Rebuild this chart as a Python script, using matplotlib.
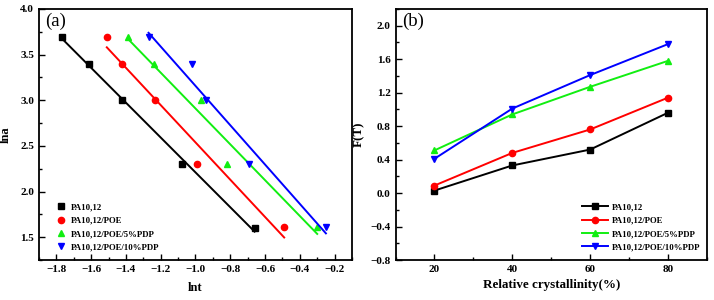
import numpy as np
import matplotlib
matplotlib.use('Agg')
import matplotlib.pyplot as plt
from matplotlib.ticker import MultipleLocator

plt.rcParams['font.family'] = ['Liberation Serif', 'DejaVu Serif']
plt.rcParams['font.weight'] = 'bold'

labels = ['PA10,12', 'PA10,12/POE', 'PA10,12/POE/5%PDP', 'PA10,12/POE/10%PDP']
colors = ['black', 'red', '#11ee11', 'blue']
markers = ['s', 'o', '^', 'v']

# panel (a): ln t vs ln a
lnt_pa = [-1.77, -1.61, -1.42, -1.08, -0.66]
lnt_poe = [-1.51, -1.42, -1.23, -0.99, -0.49]
lnt_5pdp = [-1.39, -1.24, -0.97, -0.82, -0.30]
lnt_10pdp = [-1.27, -1.02, -0.94, -0.69, -0.25]
lna_pa = [3.69, 3.40, 3.00, 2.30, 1.60]
lna_poe = [3.69, 3.40, 3.00, 2.30, 1.61]
lna_5pdp = [3.69, 3.40, 3.00, 2.30, 1.61]
lna_10pdp = [3.69, 3.40, 3.00, 2.30, 1.61]

# panel (b): F(T) vs relative crystallinity
xt = [20, 40, 60, 80]
ft_pa = [0.03, 0.33, 0.52, 0.96]
ft_poe = [0.09, 0.48, 0.76, 1.14]
ft_5pdp = [0.51, 0.94, 1.27, 1.58]
ft_10pdp = [0.41, 1.01, 1.41, 1.78]

fig = plt.figure(figsize=(7.14, 3.0), dpi=100)
axa = fig.add_axes([0.0546, 0.1333, 0.4384, 0.8367])
axb = fig.add_axes([0.554, 0.1333, 0.436, 0.8367])


def style(ax):
    for s in ax.spines.values():
        s.set_linewidth(1.3)
    ax.tick_params(which='both', direction='in', top=False, right=False,
                   labelsize=8, width=1)
    ax.tick_params(which='major', length=4)
    ax.tick_params(which='minor', length=2.5)
    for t in ax.get_xticklabels() + ax.get_yticklabels():
        t.set_fontweight('bold')


lnts = [lnt_pa, lnt_poe, lnt_5pdp, lnt_10pdp]
lnas = [lna_pa, lna_poe, lna_5pdp, lna_10pdp]
for x, y, c, m, lab in zip(lnts, lnas, colors, markers, labels):
    x = np.array(x); y = np.array(y)
    axa.plot(x, y, m, color=c, ms=4.5, ls='none', label=lab)
    k, b = np.polyfit(x, y, 1)
    xx = np.array([x.min(), x.max()])
    axa.plot(xx, k * xx + b, '-', color=c, lw=1.4)

axa.set_xlim(-1.9, -0.1)
axa.set_ylim(1.25, 4.0)
axa.xaxis.set_major_locator(MultipleLocator(0.2))
axa.xaxis.set_minor_locator(MultipleLocator(0.1))
axa.yaxis.set_major_locator(MultipleLocator(0.5))
axa.yaxis.set_minor_locator(MultipleLocator(0.25))
axa.set_xlabel('lnt', fontsize=9, fontweight='bold', labelpad=6)
axa.set_ylabel('lna', fontsize=9, fontweight='bold', labelpad=6)
axa.text(0.02, 0.985, '(a)', transform=axa.transAxes, fontsize=13.5,
         fontweight='normal', va='top', ha='left')
axa.legend(loc='lower left', frameon=False, fontsize=6.3, handlelength=1,
           handletextpad=0.6, labelspacing=0.6, borderaxespad=0,
           bbox_to_anchor=(0.045, 0.02))
style(axa)

fts = [ft_pa, ft_poe, ft_5pdp, ft_10pdp]
for y, c, m, lab in zip(fts, colors, markers, labels):
    axb.plot(xt, y, '-', marker=m, color=c, ms=4.5, lw=1.4, label=lab)

axb.set_xlim(10, 90)
axb.set_ylim(-0.8, 2.2)
axb.set_xticks(xt)
axb.xaxis.set_minor_locator(MultipleLocator(10))
axb.yaxis.set_major_locator(MultipleLocator(0.4))
axb.yaxis.set_minor_locator(MultipleLocator(0.2))
axb.set_xlabel('Relative crystallinity(%)', fontsize=9.4, fontweight='bold',
               labelpad=4)
axb.set_ylabel('F(T)', fontsize=9.4, fontweight='bold', labelpad=4)
axb.text(0.02, 0.985, '(b)', transform=axb.transAxes, fontsize=13.5,
         fontweight='normal', va='top', ha='left')
axb.legend(loc='lower right', frameon=False, fontsize=6.3, handlelength=3.0,
           handletextpad=0.45, labelspacing=0.6, borderaxespad=0,
           bbox_to_anchor=(0.99, 0.02))
style(axb)

fig.savefig('out.png', dpi=100)
plt.close(fig)
